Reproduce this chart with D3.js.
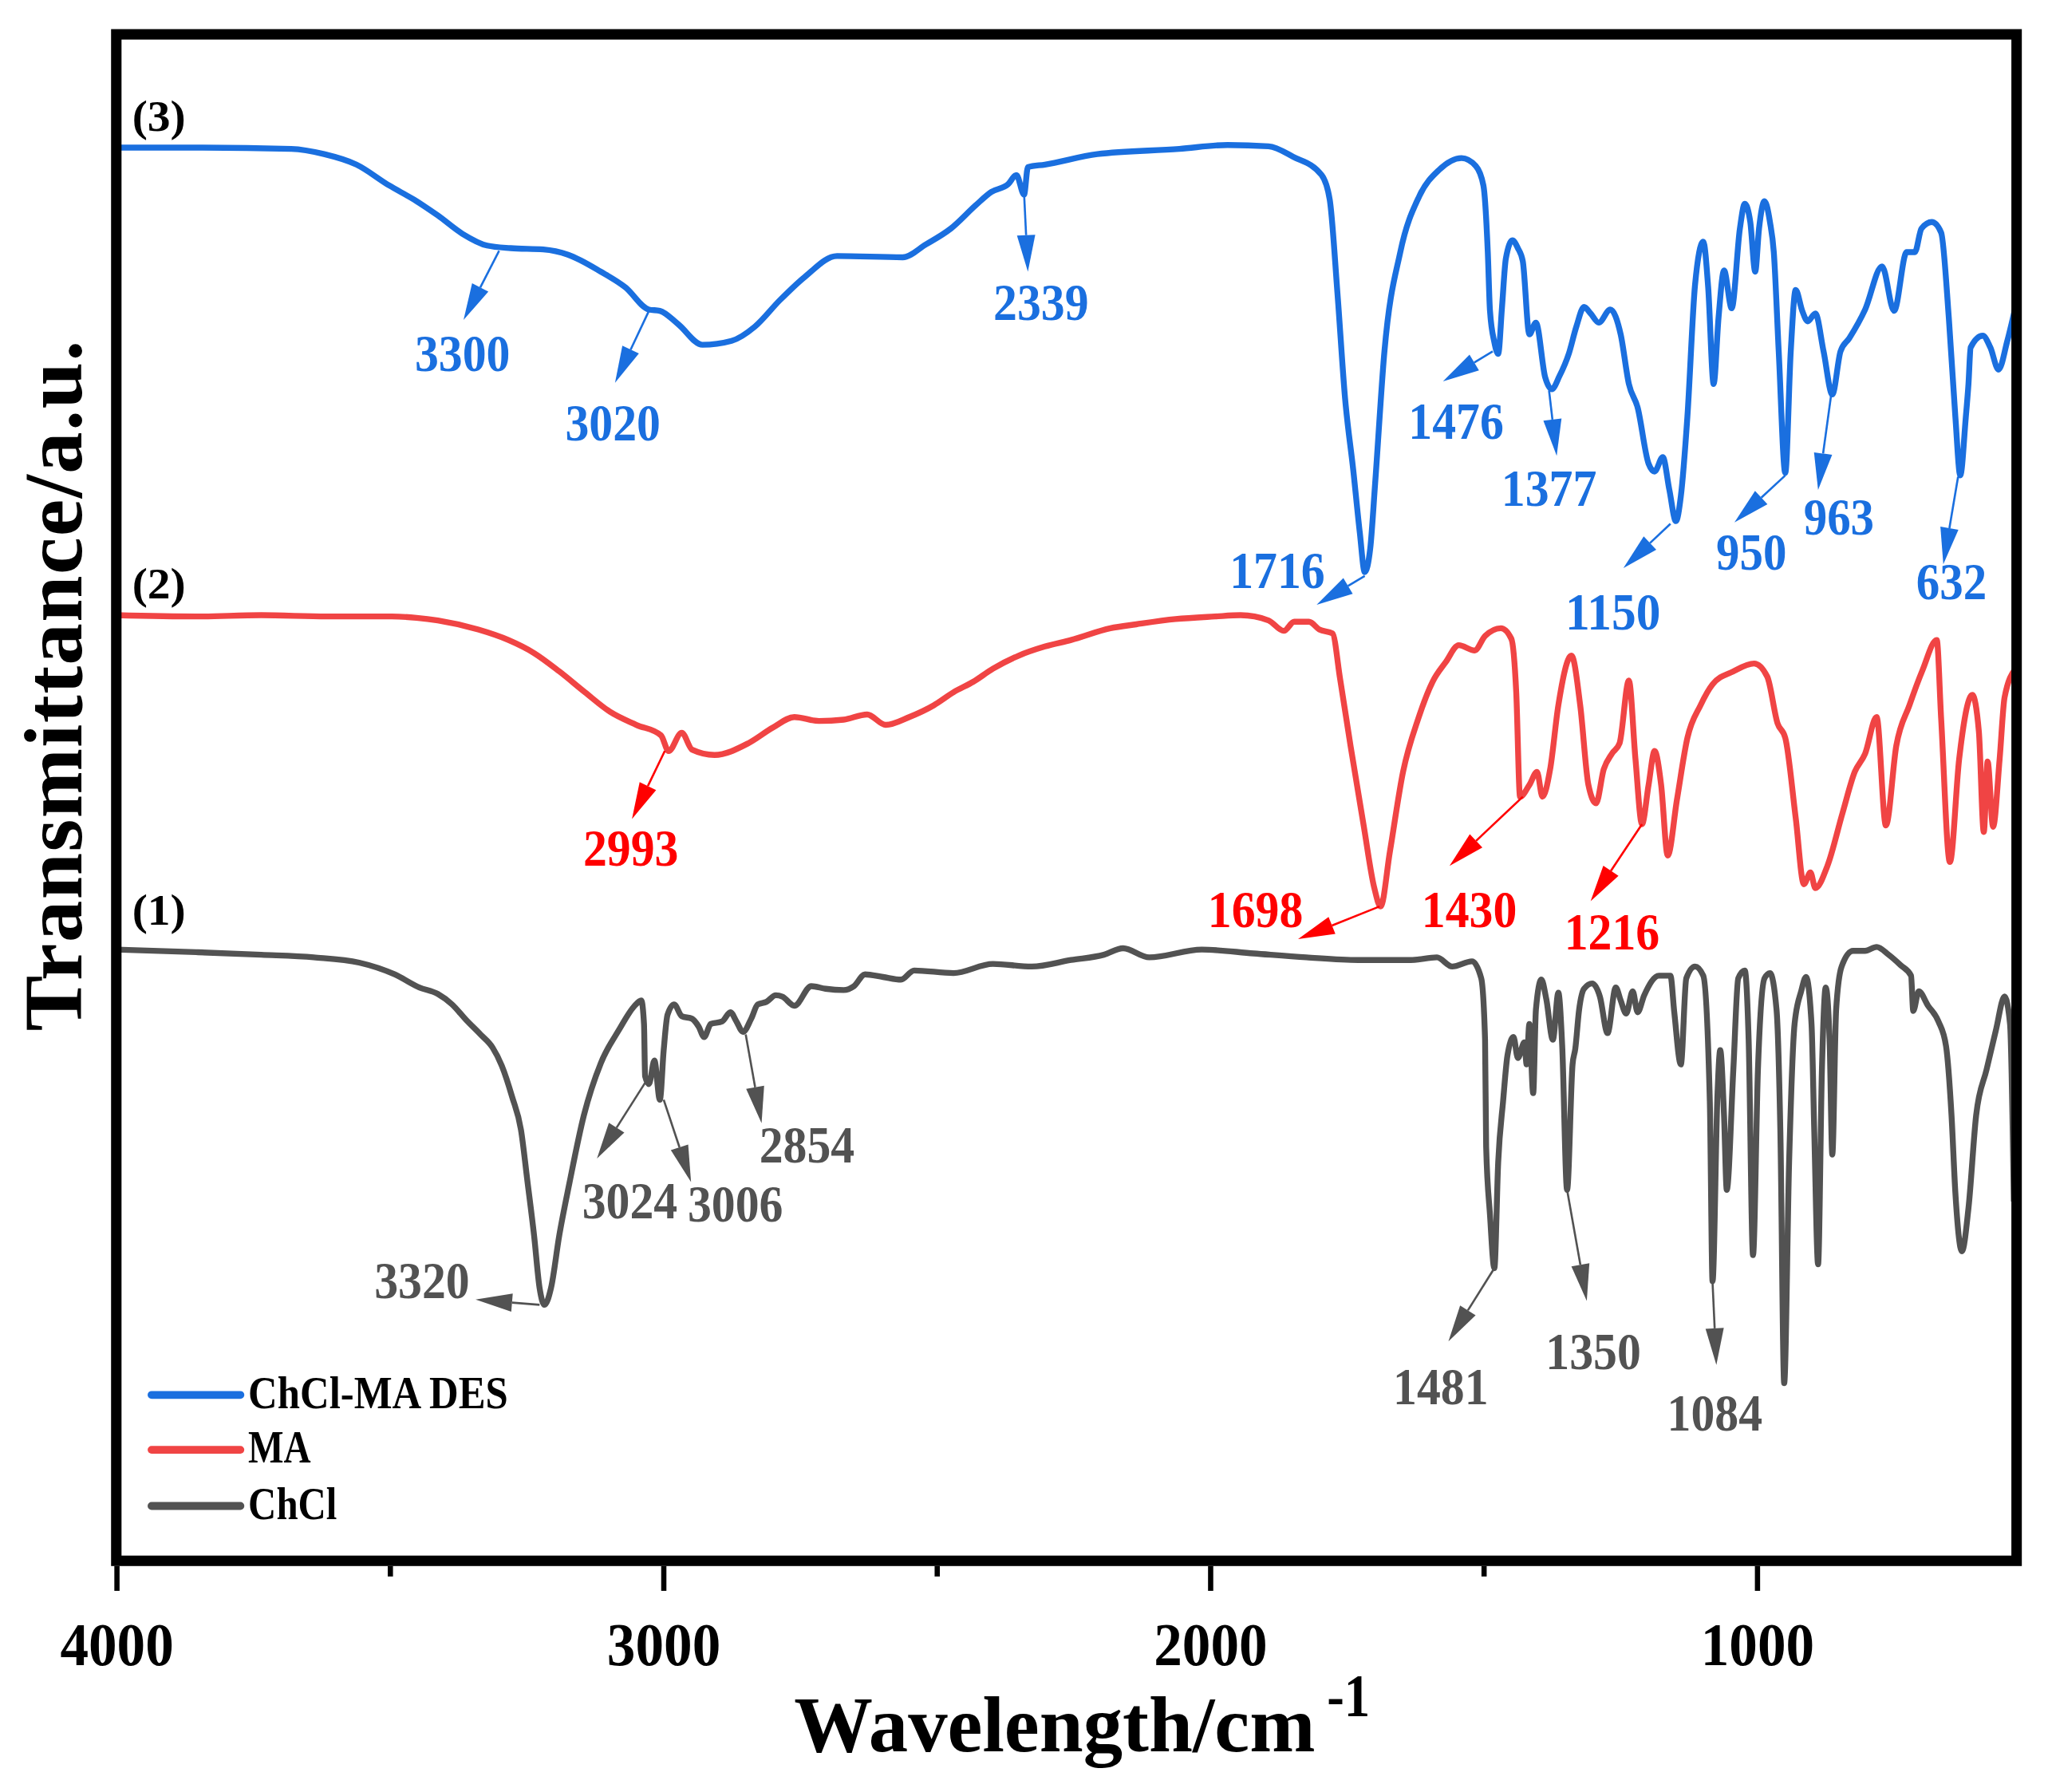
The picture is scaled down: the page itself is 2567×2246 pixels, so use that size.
<!DOCTYPE html>
<html>
<head>
<meta charset="utf-8">
<script src="https://cdn.jsdelivr.net/npm/d3@7"></script>
<style>
  html, body { margin: 0; padding: 0; background: #fff; }
  svg { display: block; font-family: "Liberation Serif", "Times New Roman", serif; font-weight: bold; }
</style>
</head>
<body>
<div id="chart"></div>
<script>
// [wavenumber cm-1, transmittance a.u.]
const chclMaDes = [
  [4000,108.2],[3854,108.2],[3680,108.1],[3620,107.7],[3561,106.9],[3501,105.3],[3455,104.2],[3412,103.0],
  [3367,101.6],[3322,100.7],[3279,100.5],[3219,100.4],[3174,100.0],[3114,98.7],[3069,97.5],[3026,95.8],
  [3006,95.7],[2973,94.7],[2928,93.1],[2875,93.4],[2832,94.5],[2787,96.5],[2741,98.3],[2682,99.9],
  [2562,99.8],[2519,100.8],[2474,102.0],[2428,103.8],[2400,104.8],[2369,105.4],[2354,106.1],[2340,104.6],
  [2333,106.7],[2302,106.9],[2206,107.7],[2056,108.1],[1968,108.4],[1893,108.3],[1848,107.5],[1796,106.1],
  [1781,104.2],[1767,97.1],[1753,89.0],[1738,83.5],[1726,78.7],[1717,75.7],[1707,77.5],[1698,82.5],
  [1681,92.6],[1652,100.2],[1617,104.5],[1581,106.5],[1540,107.4],[1514,106.8],[1500,105.3],[1492,100.2],
  [1488,95.7],[1480,93.3],[1473,92.4],[1466,96.0],[1459,99.7],[1447,101.1],[1437,100.5],[1428,99.5],
  [1416,93.9],[1404,94.8],[1387,90.6],[1375,89.7],[1361,90.7],[1344,92.4],[1330,94.5],[1316,96.0],
  [1304,95.5],[1289,94.8],[1268,95.8],[1249,93.9],[1234,90.1],[1218,88.3],[1198,84.0],[1187,83.4],
  [1172,84.5],[1160,82.0],[1148,79.6],[1139,81.5],[1127,87.6],[1113,97.7],[1098,101.0],[1089,97.5],
  [1079,90.1],[1070,95.2],[1060,98.8],[1046,95.9],[1031,102.0],[1022,103.9],[1012,102.5],[1003,98.7],
  [996,102.0],[986,104.1],[976,102.5],[969,100.2],[960,92.6],[948,83.3],[938,92.6],[929,97.3],
  [917,95.7],[907,94.9],[893,95.5],[878,92.6],[862,89.3],[847,92.6],[831,93.6],[802,95.8],
  [771,99.1],[749,95.7],[726,100.2],[711,100.2],[699,102.0],[680,102.5],[663,101.7],[649,95.2],
  [637,87.6],[628,83.1],[618,87.5],[613,90.1],[609,92.9],[587,93.8],[573,92.9],[558,91.2],
  [542,93.4],[527,96.0]
];

const ma = [
  [4000,72.4],[3854,72.3],[3735,72.4],[3615,72.3],[3496,72.3],[3451,72.2],[3412,72.0],[3338,71.3],
  [3283,70.5],[3236,69.5],[3190,68.1],[3143,66.5],[3097,65.0],[3049,64.0],[3004,63.2],[2990,62.0],
  [2966,63.4],[2947,62.1],[2906,61.7],[2844,62.6],[2799,63.8],[2760,64.6],[2715,64.3],[2670,64.4],
  [2627,64.8],[2593,64.0],[2550,64.6],[2505,65.5],[2469,66.5],[2433,67.3],[2397,68.3],[2350,69.3],
  [2302,70.0],[2254,70.5],[2182,71.4],[2135,71.7],[2063,72.1],[1991,72.3],[1944,72.4],[1893,72.0],
  [1865,71.2],[1846,71.9],[1819,71.9],[1800,71.3],[1776,71.0],[1762,67.5],[1743,62.4],[1719,56.3],
  [1700,51.6],[1688,50.1],[1671,54.3],[1647,60.4],[1619,64.5],[1593,67.3],[1569,68.8],[1545,70.1],
  [1516,69.7],[1497,70.8],[1468,71.4],[1449,70.6],[1440,66.5],[1433,58.5],[1416,59.4],[1402,60.4],
  [1392,58.5],[1378,60.6],[1363,65.5],[1339,69.3],[1323,65.5],[1308,59.4],[1294,58.0],[1280,60.6],
  [1265,61.8],[1251,62.6],[1234,67.4],[1222,61.4],[1210,56.4],[1198,59.4],[1187,62.0],[1175,59.4],
  [1163,54.0],[1146,58.3],[1127,63.0],[1103,65.5],[1081,67.1],[1043,68.1],[1005,68.7],[981,67.7],
  [962,64.1],[948,63.0],[929,56.9],[914,51.8],[902,52.7],[893,51.5],[871,53.2],[843,57.3],
  [821,60.4],[802,61.8],[781,64.6],[764,56.3],[745,62.4],[721,65.5],[697,68.2],[671,70.5],
  [663,64.5],[647,53.5],[630,61.4],[606,66.3],[594,63.5],[585,55.8],[578,61.2],[568,56.2],
  [556,61.4],[547,66.1],[527,68.3]
];

const chcl = [
  [4000,46.8],[3854,46.6],[3735,46.4],[3639,46.2],[3556,45.8],[3491,44.9],[3446,43.9],[3412,43.4],
  [3386,42.6],[3360,41.4],[3334,40.3],[3312,39.3],[3295,37.9],[3276,35.5],[3260,33.0],[3248,29.0],
  [3236,24.9],[3226,20.9],[3217,19.6],[3205,20.9],[3190,24.9],[3171,29.0],[3145,34.1],[3114,38.1],
  [3080,40.7],[3054,42.4],[3040,42.9],[3035,41.1],[3033,37.1],[3026,36.5],[3016,38.3],[3006,35.3],
  [2999,39.1],[2992,41.8],[2980,42.6],[2966,41.7],[2947,41.5],[2935,40.9],[2925,40.1],[2913,41.1],
  [2892,41.3],[2877,42.0],[2866,41.3],[2854,40.5],[2839,41.5],[2827,42.6],[2811,42.8],[2794,43.3],
  [2782,43.2],[2760,42.5],[2729,44.0],[2703,43.8],[2670,43.7],[2651,44.0],[2631,44.9],[2598,44.7],
  [2565,44.5],[2541,45.2],[2469,45.0],[2397,45.7],[2326,45.5],[2254,46.0],[2194,46.4],[2159,46.9],
  [2111,46.2],[2015,46.8],[1920,46.5],[1824,46.2],[1729,46.0],[1633,46.0],[1585,46.2],[1557,45.5],
  [1521,45.9],[1504,44.6],[1497,39.9],[1495,31.7],[1488,26.5],[1480,22.4],[1473,30.5],[1464,35.2],
  [1456,38.7],[1445,40.1],[1437,38.5],[1425,39.7],[1421,38.0],[1416,41.1],[1409,35.8],[1404,42.2],
  [1394,44.5],[1385,43.0],[1373,39.9],[1363,43.5],[1356,39.5],[1347,28.4],[1337,38.0],[1332,39.2],
  [1325,42.2],[1316,43.8],[1301,44.2],[1287,43.2],[1273,40.4],[1258,43.9],[1249,42.9],[1239,41.9],
  [1227,43.6],[1218,42.0],[1206,43.3],[1179,44.8],[1158,44.8],[1151,42.0],[1139,38.0],[1129,44.6],
  [1113,45.5],[1098,44.8],[1086,35.2],[1081,21.4],[1072,35.7],[1067,39.1],[1060,34.1],[1055,28.4],
  [1043,37.6],[1034,44.6],[1022,45.2],[1015,39.9],[1007,23.4],[998,37.6],[986,44.6],[976,45.0],
  [964,42.2],[957,32.9],[950,13.6],[941,30.5],[931,41.1],[919,43.6],[910,44.7],[900,41.1],
  [895,32.9],[888,22.7],[881,37.6],[874,43.9],[867,39.9],[862,31.1],[855,42.2],[845,45.5],
  [824,46.7],[802,46.7],[781,47.0],[759,46.4],[737,45.6],[718,44.8],[714,42.1],[704,43.6],
  [687,42.5],[668,41.3],[654,39.4],[644,34.1],[637,28.2],[625,23.7],[613,27.0],[599,34.1],
  [580,37.6],[563,40.6],[547,43.2],[537,41.1],[530,27.5]
];

const seriesKeys = ["des", "ma", "chcl"];
const seriesNames = ["ChCl-MA DES", "MA", "ChCl"];
const seriesTags = ["(3)", "(2)", "(1)"];
const tagAnchors = [[3971, 109.5], [3971, 73.7], [3971, 48.7]];

const xMajorTicks = [4000, 3000, 2000, 1000];
const xMinorTicks = [3500, 2500, 1500];

// peak call-outs: arrow from the band on the curve to a label
const peakLabels = [
  { label: "3300", key: "des", from: [3300, 100.3], to: [3365, 95.0], at: [3367, 91.1] },
  { label: "3020", key: "des", from: [3026, 95.7], to: [3088, 90.2], at: [3092, 85.8] },
  { label: "2339", key: "des", from: [2340, 104.7], to: [2333, 98.7], at: [2309, 95.0] },
  { label: "1716", key: "des", from: [1717, 75.4], to: [1805, 73.2], at: [1877, 74.5] },
  { label: "1476", key: "des", from: [1483, 92.6], to: [1574, 90.3], at: [1550, 85.9] },
  { label: "1377", key: "des", from: [1380, 89.6], to: [1366, 84.6], at: [1380, 80.8] },
  { label: "1150", key: "des", from: [1158, 79.4], to: [1244, 76.0], at: [1263, 71.3] },
  { label: "950", key: "des", from: [948, 83.1], to: [1041, 79.5], at: [1010, 75.9] },
  { label: "963", key: "des", from: [864, 89.3], to: [888, 82.0], at: [850, 78.6] },
  { label: "632", key: "des", from: [632, 83.0], to: [659, 76.3], at: [644, 73.6] },
  { label: "2993", key: "ma", from: [2997, 62.0], to: [3057, 56.8], at: [3059, 53.2] },
  { label: "1698", key: "ma", from: [1690, 50.1], to: [1839, 47.6], at: [1917, 48.5] },
  { label: "1430", key: "ma", from: [1428, 58.5], to: [1562, 53.2], at: [1526, 48.5] },
  { label: "1216", key: "ma", from: [1210, 56.4], to: [1304, 50.5], at: [1265, 46.8] },
  { label: "3320", key: "chcl", from: [3226, 19.6], to: [3343, 20.0], at: [3441, 20.1] },
  { label: "3024", key: "chcl", from: [3033, 36.6], to: [3121, 30.8], at: [3061, 26.2] },
  { label: "3006", key: "chcl", from: [2999, 35.3], to: [2949, 29.0], at: [2868, 26.0] },
  { label: "2854", key: "chcl", from: [2849, 40.3], to: [2820, 33.5], at: [2737, 30.5] },
  { label: "1481", key: "chcl", from: [1480, 22.4], to: [1564, 16.8], at: [1578, 12.0] },
  { label: "1350", key: "chcl", from: [1347, 28.4], to: [1311, 19.9], at: [1299, 14.7] },
  { label: "1084", key: "chcl", from: [1081, 21.3], to: [1074, 15.0], at: [1077, 10.0] }
];

class FtirChart {
  constructor(el) {
    this.el = el;
    this.setup();
    this.scaffold();
    this.render();
  }

  setup() {
    this.width = 1568;
    this.height = 1372;
    this.marginTop = 26.3;
    this.marginRight = 24;
    this.marginBottom = 177;
    this.marginLeft = 89;

    this.lineColor = { des: "#1a6fdf", ma: "#f04444", chcl: "#525252" };
    this.textColor = { des: "#1a6fdf", ma: "#ff0000", chcl: "#525252" };
    this.seriesData = { des: chclMaDes, ma: ma, chcl: chcl };

    this.x = d3
      .scaleLinear()
      .domain([4000, 525])
      .range([this.marginLeft, this.width - this.marginRight]);
    this.y = d3
      .scaleLinear()
      .domain([0, 116.87])
      .range([this.height - this.marginBottom, this.marginTop]);

    this.linePath = d3
      .line()
      .x((d) => this.x(d[0]))
      .y((d) => this.y(d[1]))
      .curve(d3.curveMonotoneX);
  }

  scaffold() {
    this.svg = d3
      .select(this.el)
      .append("svg")
      .attr("width", 2567)
      .attr("height", 2246)
      .attr("viewBox", [0, 0, this.width, this.height]);

    this.svg.append("rect").attr("width", this.width).attr("height", this.height).attr("fill", "#fff");

    this.gLines = this.svg.append("g").attr("class", "lines-g");
    this.gNotes = this.svg.append("g").attr("class", "notes-g");
    this.gFrame = this.svg.append("g").attr("class", "frame-g");
    this.gX = this.svg.append("g").attr("class", "axis-g axis-g--x");
    this.gXMinor = this.svg.append("g").attr("class", "axis-g axis-g--x-minor");
    this.gTitles = this.svg.append("g").attr("class", "titles-g");
    this.gLegend = this.svg.append("g").attr("class", "legend-g");
  }

  render() {
    this.renderFrame();
    this.renderXAxis();
    this.renderTitles();
    this.renderLines();
    this.renderNotes();
    this.renderLegend();
  }

  renderFrame() {
    const [x0, x1] = this.x.range();
    const [y0, y1] = this.y.range();
    this.gFrame
      .append("rect")
      .attr("x", x0)
      .attr("y", y1)
      .attr("width", x1 - x0)
      .attr("height", y0 - y1)
      .attr("fill", "none")
      .attr("stroke", "#000")
      .attr("stroke-width", 8);
  }

  renderXAxis() {
    const axisY = this.y.range()[0] + 4;
    this.gX
      .attr("transform", `translate(0,${axisY})`)
      .call(
        d3.axisBottom(this.x).tickValues(xMajorTicks).tickSize(19).tickFormat(d3.format("d"))
      )
      .call((g) => g.select(".domain").remove())
      .call((g) => g.selectAll(".tick line").attr("stroke", "#000").attr("stroke-width", 4))
      .call((g) =>
        g
          .selectAll(".tick text")
          .attr("y", 76)
          .attr("dy", 0)
          .attr("fill", "#000")
          .attr("font-size", 46)
          .attr("font-family", "Liberation Serif, Times New Roman, serif")
          .attr("font-weight", "bold")
          .attr("textLength", 87)
          .attr("lengthAdjust", "spacingAndGlyphs")
      );

    this.gXMinor
      .attr("transform", `translate(0,${axisY})`)
      .call(d3.axisBottom(this.x).tickValues(xMinorTicks).tickSize(8).tickFormat(""))
      .call((g) => g.select(".domain").remove())
      .call((g) => g.selectAll(".tick line").attr("stroke", "#000").attr("stroke-width", 4));
  }

  renderTitles() {
    const xTitle = this.gTitles.append("text").attr("class", "axis-title");
    xTitle
      .append("tspan")
      .attr("x", 608)
      .attr("y", 1341)
      .attr("font-size", 61)
      .attr("textLength", 399)
      .attr("lengthAdjust", "spacingAndGlyphs")
      .text("Wavelength/cm");
    xTitle
      .append("tspan")
      .attr("x", 1016)
      .attr("y", 1314)
      .attr("font-size", 46)
      .attr("textLength", 33)
      .attr("lengthAdjust", "spacingAndGlyphs")
      .text("-1");

    this.gTitles
      .append("text")
      .attr("transform", "translate(62,525)rotate(-90)")
      .attr("text-anchor", "middle")
      .attr("font-size", 64)
      .attr("textLength", 529)
      .attr("lengthAdjust", "spacing")
      .text("Transmittance/a.u.");

    this.gTitles
      .selectAll(".tag")
      .data(seriesTags)
      .join("text")
      .attr("class", "tag")
      .attr("x", (d, i) => this.x(tagAnchors[i][0]))
      .attr("y", (d, i) => this.y(tagAnchors[i][1]))
      .attr("font-size", 34)
      .attr("textLength", 41)
      .attr("lengthAdjust", "spacingAndGlyphs")
      .text((d) => d);
  }

  renderLines() {
    this.gLines
      .selectAll(".line-path")
      .data(seriesKeys)
      .join("path")
      .attr("class", "line-path")
      .attr("fill", "none")
      .attr("stroke", (d) => this.lineColor[d])
      .attr("stroke-width", 4.5)
      .attr("stroke-linejoin", "round")
      .attr("d", (d) => this.linePath(this.seriesData[d]));
  }

  renderNotes() {
    const headLength = 28;
    const headHalf = 7;
    const note = this.gNotes
      .selectAll(".note-g")
      .data(peakLabels)
      .join("g")
      .attr("class", "note-g");

    note.each((d, i, nodes) => {
      const g = d3.select(nodes[i]);
      const x1 = this.x(d.from[0]);
      const y1 = this.y(d.from[1]);
      const x2 = this.x(d.to[0]);
      const y2 = this.y(d.to[1]);
      const len = Math.hypot(x2 - x1, y2 - y1);
      const ux = (x2 - x1) / len;
      const uy = (y2 - y1) / len;
      const bx = x2 - ux * headLength;
      const by = y2 - uy * headLength;
      const color = this.textColor[d.key];

      g.append("line")
        .attr("x1", x1)
        .attr("y1", y1)
        .attr("x2", bx)
        .attr("y2", by)
        .attr("stroke", color)
        .attr("stroke-width", 1.6);
      g.append("path")
        .attr(
          "d",
          `M${x2},${y2}L${bx - uy * headHalf},${by + ux * headHalf}L${bx + uy * headHalf},${by - ux * headHalf}Z`
        )
        .attr("fill", color);
      g.append("text")
        .attr("x", this.x(d.at[0]))
        .attr("y", this.y(d.at[1]))
        .attr("text-anchor", "middle")
        .attr("font-size", 40)
        .attr("textLength", d.label.length === 3 ? 54 : 73)
        .attr("lengthAdjust", "spacingAndGlyphs")
        .attr("fill", color)
        .text(d.label);
    });
  }

  renderLegend() {
    const rowY = [1068, 1110, 1153];
    const textWidth = [199, 48, 68];
    const item = this.gLegend
      .selectAll(".legend-item")
      .data(seriesKeys)
      .join("g")
      .attr("class", "legend-item")
      .attr("transform", (d, i) => `translate(116,${rowY[i]})`);
    item
      .append("line")
      .attr("x2", 68)
      .attr("stroke", (d) => this.lineColor[d])
      .attr("stroke-width", 6)
      .attr("stroke-linecap", "round");
    item
      .append("text")
      .attr("x", 74)
      .attr("y", 10)
      .attr("font-size", 35)
      .attr("textLength", (d, i) => textWidth[i])
      .attr("lengthAdjust", "spacingAndGlyphs")
      .text((d, i) => seriesNames[i]);
  }
}

new FtirChart(document.getElementById("chart"));
</script>
</body>
</html>
